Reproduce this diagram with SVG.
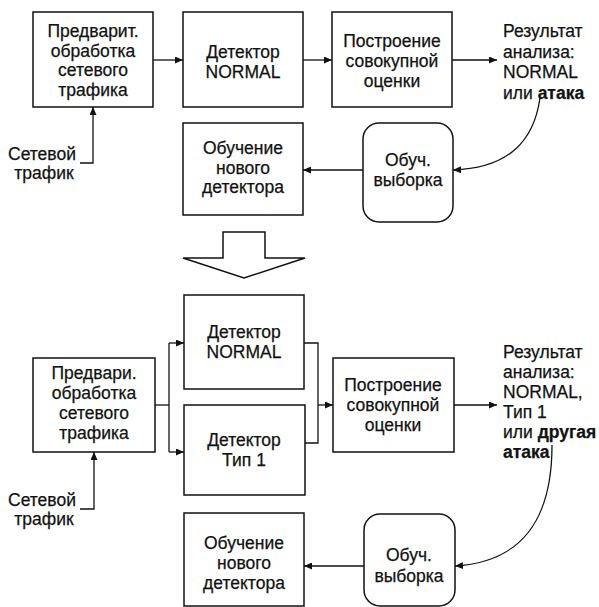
<svg xmlns="http://www.w3.org/2000/svg" width="599" height="607" viewBox="0 0 599 607">
<style>
.box{fill:#fff;stroke:#111;stroke-width:1.5}
.ln{fill:none;stroke:#111;stroke-width:1.3}
.t{font-family:"Liberation Sans",Arial,sans-serif;font-size:17.5px;fill:#111;stroke:#111;stroke-width:0.25;text-anchor:middle}
.l{font-family:"Liberation Sans",Arial,sans-serif;font-size:17.5px;fill:#111;stroke:#111;stroke-width:0.25;text-anchor:start}
.b{font-weight:bold}
</style>
<defs>
<marker id="ah" markerWidth="9" markerHeight="7" refX="8" refY="3.5" orient="auto" markerUnits="userSpaceOnUse">
<path d="M0,0 L8,3.5 L0,7 z" fill="#111"/>
</marker>
</defs>
<rect width="599" height="607" fill="#fff"/>

<!-- TOP SECTION -->
<g id="pre1">
<rect class="box" x="33" y="12" width="120" height="95"/>
<text class="t" x="93" y="37">Предварит.</text>
<text class="t" x="93" y="56.5">обработка</text>
<text class="t" x="93" y="76">сетевого</text>
<text class="t" x="93" y="95.5">трафика</text>
</g>
<g id="det1">
<rect class="box" x="183" y="12" width="120" height="95"/>
<text class="t" x="243" y="58">Детектор</text>
<text class="t" x="243" y="78">NORMAL</text>
</g>
<g id="agg1">
<rect class="box" x="332" y="12" width="120" height="95"/>
<text class="t" x="392" y="47">Построение</text>
<text class="t" x="392" y="67">совокупной</text>
<text class="t" x="392" y="87">оценки</text>
</g>
<g id="res1">
<text class="l" x="503" y="37">Результат</text>
<text class="l" x="503" y="57.5">анализа:</text>
<text class="l" x="503" y="78">NORMAL</text>
<text class="l" x="503" y="98.5">или <tspan class="b">атака</tspan></text>
</g>
<g id="sel1">
<rect class="box" x="363" y="123" width="90" height="99" rx="16" ry="16"/>
<text class="t" x="408" y="166">Обуч.</text>
<text class="t" x="408" y="186">выборка</text>
</g>
<g id="train1">
<rect class="box" x="183" y="123" width="120" height="92"/>
<text class="t" x="243" y="154">Обучение</text>
<text class="t" x="243" y="173.5">нового</text>
<text class="t" x="243" y="193">детектора</text>
</g>
<g id="src1">
<text class="t" x="42" y="160">Сетевой</text>
<text class="t" x="44" y="179">трафик</text>
</g>

<g id="bigarrow">
<polygon class="box" points="223,232 265,232 265,258 305,258 244,278 183,258 223,258"/>
</g>

<!-- BOTTOM SECTION -->
<g id="pre2">
<rect class="box" x="33" y="358" width="122" height="94"/>
<text class="t" x="94" y="379">Предвари.</text>
<text class="t" x="94" y="399">обработка</text>
<text class="t" x="94" y="419">сетевого</text>
<text class="t" x="94" y="439">трафика</text>
</g>
<g id="det2">
<rect class="box" x="184" y="295" width="120" height="94"/>
<text class="t" x="244" y="338">Детектор</text>
<text class="t" x="244" y="358">NORMAL</text>
</g>
<g id="det3">
<rect class="box" x="184" y="405" width="121" height="90"/>
<text class="t" x="244" y="446">Детектор</text>
<text class="t" x="244" y="466">Тип 1</text>
</g>
<g id="agg2">
<rect class="box" x="333" y="358" width="121" height="94"/>
<text class="t" x="393" y="391">Построение</text>
<text class="t" x="393" y="411">совокупной</text>
<text class="t" x="393" y="431">оценки</text>
</g>
<g id="res2">
<text class="l" x="503" y="358">Результат</text>
<text class="l" x="503" y="378">анализа:</text>
<text class="l" x="503" y="398">NORMAL,</text>
<text class="l" x="503" y="418">Тип 1</text>
<text class="l" x="503" y="438">или <tspan class="b">другая</tspan></text>
<text class="l b" x="503" y="458">атака</text>
</g>
<g id="sel2">
<rect class="box" x="364" y="514" width="91" height="92" rx="16" ry="16"/>
<text class="t" x="409" y="561">Обуч.</text>
<text class="t" x="409" y="582">выборка</text>
</g>
<g id="train2">
<rect class="box" x="184" y="513" width="120" height="93"/>
<text class="t" x="244" y="549">Обучение</text>
<text class="t" x="244" y="569">нового</text>
<text class="t" x="244" y="589">детектора</text>
</g>
<g id="src2">
<text class="t" x="42" y="506">Сетевой</text>
<text class="t" x="44" y="525">трафик</text>
</g>

<g id="connectors">
<!-- top -->
<line class="ln" x1="153" y1="60" x2="183" y2="60" marker-end="url(#ah)"/>
<line class="ln" x1="303" y1="60" x2="332" y2="60" marker-end="url(#ah)"/>
<line class="ln" x1="452" y1="60" x2="497" y2="60" marker-end="url(#ah)"/>
<path class="ln" d="M540,98 C534,140 510,168 453,170" marker-end="url(#ah)"/>
<line class="ln" x1="363" y1="170" x2="303" y2="170" marker-end="url(#ah)"/>
<path class="ln" d="M80,163 H93 V107" marker-end="url(#ah)"/>
<!-- bottom -->
<path class="ln" d="M155,405 H169"/>
<path class="ln" d="M169,343 V452"/>
<line class="ln" x1="169" y1="343" x2="184" y2="343" marker-end="url(#ah)"/>
<line class="ln" x1="169" y1="452" x2="184" y2="452" marker-end="url(#ah)"/>
<path class="ln" d="M304,343 H318 V443 H305"/>
<line class="ln" x1="318" y1="405" x2="333" y2="405" marker-end="url(#ah)"/>
<line class="ln" x1="454" y1="405" x2="497" y2="405" marker-end="url(#ah)"/>
<path class="ln" d="M552,445 C552,520 522,562 455,566" marker-end="url(#ah)"/>
<line class="ln" x1="364" y1="566" x2="304" y2="566" marker-end="url(#ah)"/>
<path class="ln" d="M80,509 H94 V452" marker-end="url(#ah)"/>
</g>
</svg>
